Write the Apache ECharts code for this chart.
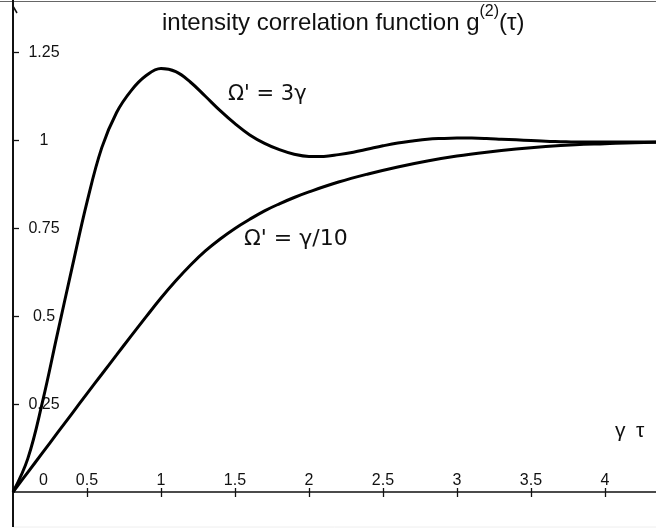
<!DOCTYPE html>
<html><head><meta charset="utf-8">
<script src="https://cdn.jsdelivr.net/npm/echarts@6/dist/echarts.min.js"></script>
<style>html,body{margin:0;padding:0;background:#fff}#c{width:656px;height:532px}</style>
</head><body><div id="c"></div>
<script>
// Omega' = 3 gamma
const tauA = [0,0.1,0.2,0.3,0.4,0.5,0.6,0.7,0.8,0.9,1.0,1.1,1.2,1.3,1.4,1.5,1.6,1.7,1.8,1.9,2.0,2.1,2.2,2.3,2.4,2.5,2.6,2.7,2.8,2.9,3.0,3.1,3.2,3.3,3.4,3.5,3.6,3.7,3.8,3.9,4.0,4.1,4.2,4.3,4.345];
const gA   = [0,0.095,0.258,0.45,0.64,0.825,0.98,1.08,1.143,1.185,1.205,1.196,1.166,1.126,1.085,1.048,1.016,0.992,0.974,0.961,0.955,0.955,0.96,0.967,0.976,0.985,0.993,0.999,1.004,1.006,1.007,1.007,1.006,1.004,1.002,1.0,0.998,0.997,0.996,0.996,0.996,0.996,0.996,0.996,0.996];
// Omega' = gamma / 10
const tauB = [0,0.1,0.2,0.3,0.4,0.5,0.6,0.7,0.8,0.9,1.0,1.1,1.2,1.3,1.4,1.5,1.6,1.7,1.8,1.9,2.0,2.2,2.4,2.6,2.8,3.0,3.2,3.4,3.6,3.8,4.0,4.2,4.345];
const gB   = [0,0.056,0.112,0.168,0.224,0.28,0.335,0.39,0.445,0.499,0.552,0.601,0.646,0.686,0.72,0.75,0.776,0.8,0.82,0.838,0.854,0.882,0.905,0.925,0.942,0.956,0.967,0.976,0.983,0.988,0.991,0.994,0.995];
const xTicks = [0.5,1,1.5,2,2.5,3,3.5,4];
const xLabels = [0,0.5,1,1.5,2,2.5,3,3.5,4];
const yTicks = [0.25,0.5,0.75,1,1.25];
const labelA = "\u03A9' = 3\u03B3";
const labelB = "\u03A9' = \u03B3/10";
const axisName = "\u03B3\u2002\u03C4";

const chart = echarts.init(document.getElementById('c'), null, {renderer:'canvas'});
const font = 'Liberation Sans, Arial, Helvetica, sans-serif';
const xRange = {min:0, max:4.345};
chart.setOption({
  backgroundColor:'#fff',
  animation:false,
  title:{
    text:'intensity correlation function g{sup|(2)}(\u03C4)',
    left:162, top:4, padding:0,
    textStyle:{fontSize:24, fontWeight:'normal', color:'#111', fontFamily:font, lineHeight:38,
      rich:{sup:{fontSize:16, fontFamily:font, color:'#111', lineHeight:26, verticalAlign:'top'}}}
  },
  grid:{left:13, right:0, top:0, bottom:40, containLabel:false},
  xAxis:[{
    type:'value', ...xRange, position:'bottom',
    axisLine:{show:true, onZero:false, lineStyle:{color:'#111', width:1.6}},
    axisTick:{show:true, customValues:xTicks, inside:false, length:5, lineStyle:{color:'#111', width:1.3}},
    axisLabel:{show:true, customValues:xLabels, inside:true, margin:3, fontSize:16, color:'#111', fontFamily:font,
      formatter:v => v===0 ? '{o|0}' : String(v),
      rich:{o:{padding:[0,0,0,61], fontSize:16, fontFamily:font, color:'#111'}}},
    splitLine:{show:false}
  },{
    type:'value', ...xRange, position:'bottom',
    axisLine:{show:false, onZero:false},
    axisTick:{show:true, customValues:xTicks, inside:true, length:4, lineStyle:{color:'#111', width:1.3}},
    axisLabel:{show:false},
    splitLine:{show:false}
  }],
  yAxis:{
    type:'value', min:0, max:1.4,
    axisLine:{show:true, onZero:false, lineStyle:{color:'#111', width:2}},
    axisTick:{show:true, customValues:yTicks, inside:true, length:6, lineStyle:{color:'#111', width:1.3}},
    axisLabel:{show:true, customValues:yTicks, inside:true, align:'center', margin:31, fontSize:16, color:'#111', fontFamily:font},
    splitLine:{show:false}
  },
  series:[
    {type:'line', name:labelA, data:tauA.map((t,i)=>[t,gA[i]]), smooth:0.4, showSymbol:false, symbol:'none',
     lineStyle:{color:'#000', width:3}, clip:true},
    {type:'line', name:labelB, data:tauB.map((t,i)=>[t,gB[i]]), smooth:0.4, showSymbol:false, symbol:'none',
     lineStyle:{color:'#000', width:3}, clip:true}
  ],
  graphic:[
    {type:'line', shape:{x1:0, y1:1.5, x2:656, y2:1.5}, style:{stroke:'#666', lineWidth:1}},
    {type:'line', shape:{x1:13, y1:527, x2:656, y2:527}, style:{stroke:'#eee', lineWidth:1}},
    {type:'line', shape:{x1:13, y1:490, x2:13, y2:527}, style:{stroke:'#111', lineWidth:2}},
    {type:'line', shape:{x1:13.5, y1:7, x2:17, y2:13}, style:{stroke:'#111', lineWidth:1.5}},
    {type:'text', left:228, top:84, style:{text:labelA, font:'21px "DejaVu Sans"', fill:'#111'}},
    {type:'text', left:244, top:228, style:{text:labelB, font:'22px "DejaVu Sans"', fill:'#111'}},
    {type:'text', left:615, top:421, style:{text:axisName, font:'21px "Liberation Sans"', fill:'#111'}}
  ]
});
</script></body></html>
